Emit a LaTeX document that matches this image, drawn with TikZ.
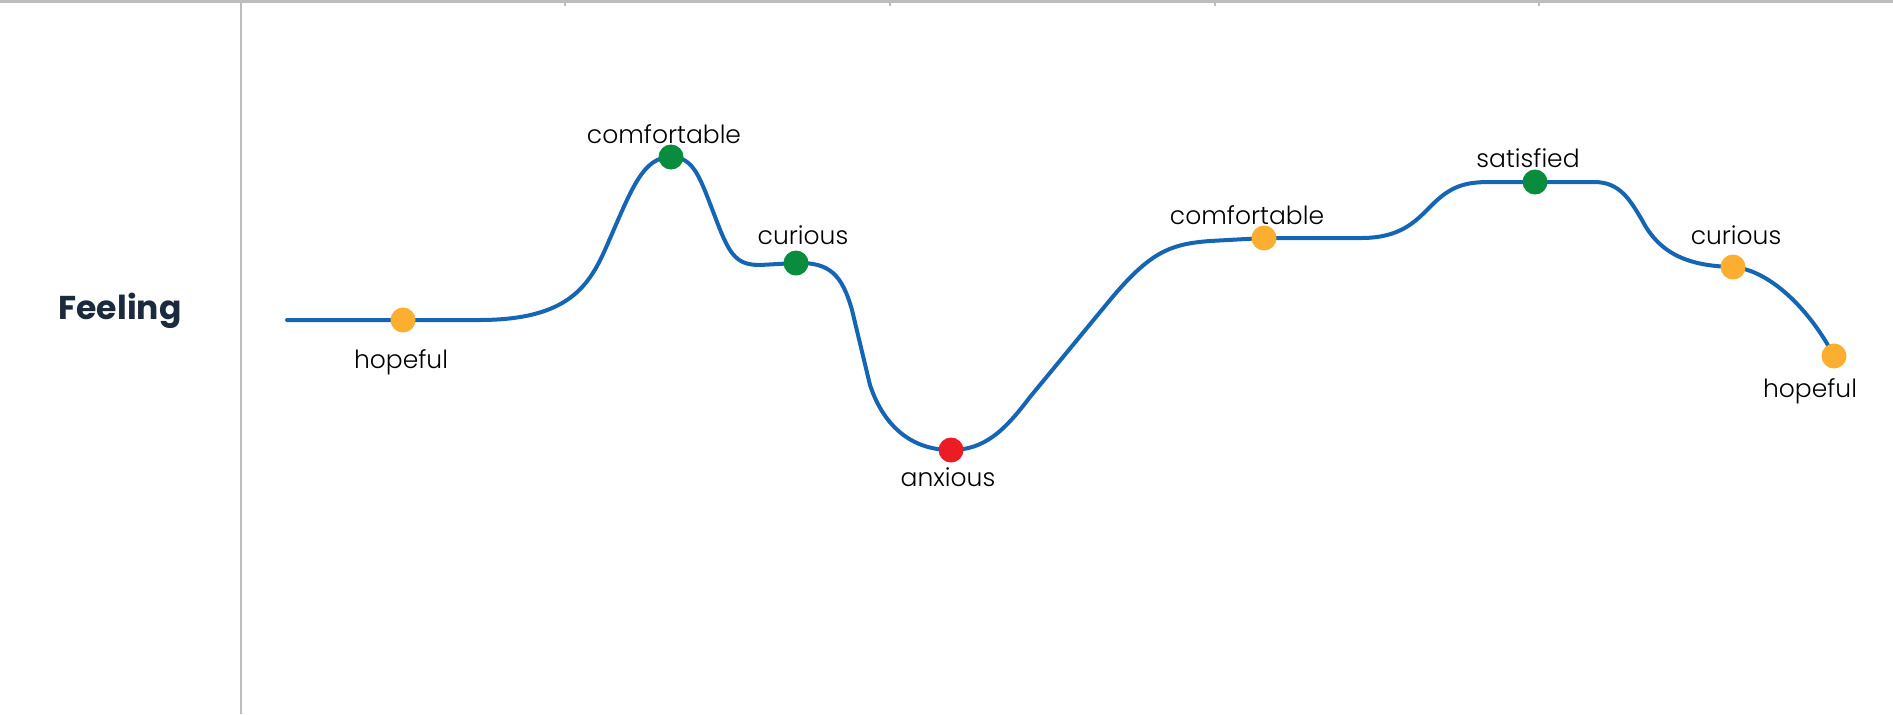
\documentclass[tikz,border=0pt]{standalone}
\usepackage{fontspec}
\setmainfont{Poppins}
\newfontfamily\plight{Poppins Light}
\definecolor{curveblue}{HTML}{1565B5}
\definecolor{dotorange}{HTML}{FBAE2F}
\definecolor{dotgreen}{HTML}{0A8C3F}
\definecolor{dotred}{HTML}{EC1C24}
\definecolor{navy}{HTML}{1B2A3D}
\definecolor{rule}{HTML}{BDBDBD}
\begin{document}
\begin{tikzpicture}[x=0.5pt,y=-0.5pt,
  dot/.style={circle,inner sep=0pt,minimum size=12.5pt},
  lbl/.style={font=\plight\fontsize{12.5}{14}\selectfont,text=black,inner sep=0pt},
  curve/.style={draw=curveblue,line width=2pt,line cap=round,line join=round},
  grid/.style={draw=rule,line width=0.75pt}]
\useasboundingbox (0,0) rectangle (1893,714);
% frame lines
\coordinate (tl) at (0,1.5);
\coordinate (tr) at (1893,1.5);
\draw[grid,line width=1.2pt] (tl) -- (tr);
\coordinate (vt) at (241,0);
\coordinate (vb) at (241,714);
\draw[grid] (vt) -- (vb);
\foreach \tx in {565,890,1215,1539}{
  \coordinate (t\tx) at (\tx,0);
  \coordinate (b\tx) at (\tx,6);
  \draw[grid] (t\tx) -- (b\tx);
}
% row label
\node[font=\fontsize{16.5}{18}\bfseries,text=navy,inner sep=0pt] (feel) at (120,311) {Feeling};
% dot positions
\coordinate (p1) at (403,320);
\coordinate (p2) at (671,157);
\coordinate (p3) at (796,263);
\coordinate (p4) at (951,450);
\coordinate (p5) at (1264,238);
\coordinate (p6) at (1535,182);
\coordinate (p7) at (1733,267);
\coordinate (p8) at (1834,356);
\coordinate (start) at (287,320);
% curve
\draw[curve] (start) -- (p1) -- (479,320)
  .. controls (570,320) and (590,285) .. (608,243)
  .. controls (632,188) and (643,157) .. (p2)
  .. controls (694,157) and (700,178) .. (714,214)
  .. controls (729,254) and (735,265) .. (760,265)
  -- (p3)
  .. controls (830,262) and (842,275) .. (852,310)
  -- (870,385)
  .. controls (885,430) and (915,450) .. (p4)
  .. controls (985,450) and (1005,430) .. (1030,397)
  -- (1110,300)
  .. controls (1150,252) and (1170,244) .. (1210,241)
  -- (p5) -- (1361,238)
  .. controls (1400,238) and (1415,222) .. (1430,207)
  .. controls (1450,186) and (1465,182) .. (1490,182)
  -- (p6) -- (1594,182)
  .. controls (1620,182) and (1630,200) .. (1642,220)
  .. controls (1660,255) and (1690,266) .. (p7)
  .. controls (1770,270) and (1810,310) .. (p8);
% dots
\node[dot,fill=dotorange] (d1) at (p1) {};
\node[dot,fill=dotgreen] (d2) at (p2) {};
\node[dot,fill=dotgreen] (d3) at (p3) {};
\node[dot,fill=dotred] (d4) at (p4) {};
\node[dot,fill=dotorange] (d5) at (p5) {};
\node[dot,fill=dotgreen] (d6) at (p6) {};
\node[dot,fill=dotorange] (d7) at (p7) {};
\node[dot,fill=dotorange] (d8) at (p8) {};
% labels
\node[lbl] (l1) at (401,362) {hopeful};
\node[lbl] (l2) at (664,134) {comfortable};
\node[lbl] (l3) at (803,235) {curious};
\node[lbl] (l4) at (948,477) {anxious};
\node[lbl] (l5) at (1247,215) {comfortable};
\node[lbl] (l6) at (1528,158) {satisfied};
\node[lbl] (l7) at (1736,235) {curious};
\node[lbl] (l8) at (1810,391) {hopeful};
\end{tikzpicture}
\end{document}
